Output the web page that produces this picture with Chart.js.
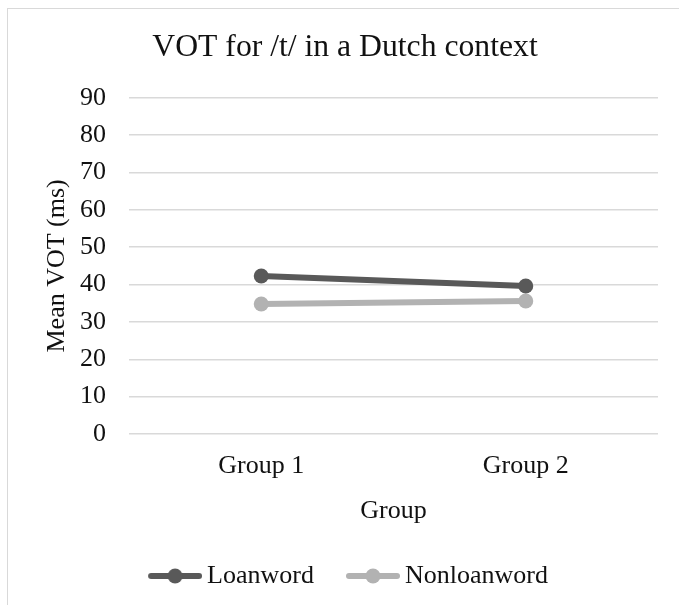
<!DOCTYPE html>
<html>
<head>
<meta charset="utf-8">
<title>VOT for /t/ in a Dutch context</title>
<script src="https://cdn.jsdelivr.net/npm/chart.js@4.4.0/dist/chart.umd.min.js"></script>
<style>
    html, body { margin: 0; padding: 0; background: #fff; overflow: hidden; }
    #frame { position: absolute; left: 7px; top: 8px; width: 720px; height: 700px; border: 1px solid #d9d9d9; }
    #wrap { position: absolute; left: 0; top: 0; width: 679px; height: 605px; }
</style>
</head>
<body>
<div id="frame"></div>
<div id="wrap"><canvas id="chart"></canvas></div>
<script>
// mean VOT per group (ms)
let groups = ["Group 1", "Group 2"];
let loanword = [42.3, 39.6];
let nonloanword = [34.8, 35.6];

let darkGrey = "#595959";
let lightGrey = "#b2b2b2";
let font = "'Liberation Serif', 'Times New Roman', serif";

// legend symbol: a short thick line with a dot in the middle
function legendMarker(color)
{
    let c = document.createElement("canvas");
    c.width = 68;
    c.height = 16;
    let g = c.getContext("2d");
    g.strokeStyle = color;
    g.lineWidth = 6;
    g.lineCap = "round";
    g.beginPath();
    g.moveTo(17, 8);
    g.lineTo(65, 8);
    g.stroke();
    g.fillStyle = color;
    g.beginPath();
    g.arc(41, 8, 7.5, 0, Math.PI * 2);
    g.fill();
    return c;
}

let markers = [legendMarker(darkGrey), legendMarker(lightGrey)];

let ctx = document.getElementById("chart").getContext("2d");
let display = new Chart(ctx,
{
    type: 'line',
    data:
    {
        labels: groups,
        datasets: [
            {
                label: "Loanword",
                data: loanword,
                borderColor: darkGrey,
                backgroundColor: darkGrey,
                borderWidth: 6,
                pointRadius: 7.5,
                pointBorderWidth: 0,
                pointBackgroundColor: darkGrey
            },
            {
                label: "Nonloanword",
                data: nonloanword,
                borderColor: lightGrey,
                backgroundColor: lightGrey,
                borderWidth: 6,
                pointRadius: 7.5,
                pointBorderWidth: 0,
                pointBackgroundColor: lightGrey
            }
        ]
    },
    options:
    {
        responsive: true,
        maintainAspectRatio: false,
        animation: false,
        layout: { padding: { left: 32, right: 21, top: 0, bottom: 6 } },
        plugins:
        {
            title:
            {
                display: true,
                text: "VOT for /t/ in a Dutch context",
                color: "#111",
                font: { family: font, size: 31.7, weight: 'normal' },
                padding: { top: 28.5, bottom: 31.2 }
            },
            legend:
            {
                position: 'bottom',
                labels:
                {
                    color: "#111",
                    font: { family: font, size: 26 },
                    usePointStyle: true,
                    pointStyleWidth: 52,
                    padding: 26,
                    generateLabels: function(chart)
                    {
                        let items = Chart.defaults.plugins.legend.labels.generateLabels(chart);
                        items.forEach(function(item, i) { item.pointStyle = markers[i]; });
                        return items;
                    }
                }
            },
            tooltip: { enabled: false }
        },
        scales:
        {
            x:
            {
                offset: true,
                grid: { display: false, drawTicks: false },
                border: { display: false },
                ticks: { color: "#111", font: { family: font, size: 26 }, padding: 17 },
                title:
                {
                    display: true,
                    text: "Group",
                    color: "#111",
                    font: { family: font, size: 26 },
                    padding: { top: 0, bottom: 10.5 }
                },
                afterFit: function(scale) { scale.height = 103; }
            },
            y:
            {
                min: 0,
                max: 90,
                ticks: { stepSize: 10, color: "#111", font: { family: font, size: 26 }, padding: 23 },
                grid: { color: "#d9d9d9", lineWidth: 1.5, drawTicks: false },
                border: { display: false },
                title:
                {
                    display: true,
                    text: "Mean VOT (ms)",
                    color: "#111",
                    font: { family: font, size: 26 },
                    padding: { top: 9.4, bottom: 0 }
                },
                afterFit: function(scale) { scale.width = 97; }
            }
        }
    }
});
</script>
</body>
</html>
